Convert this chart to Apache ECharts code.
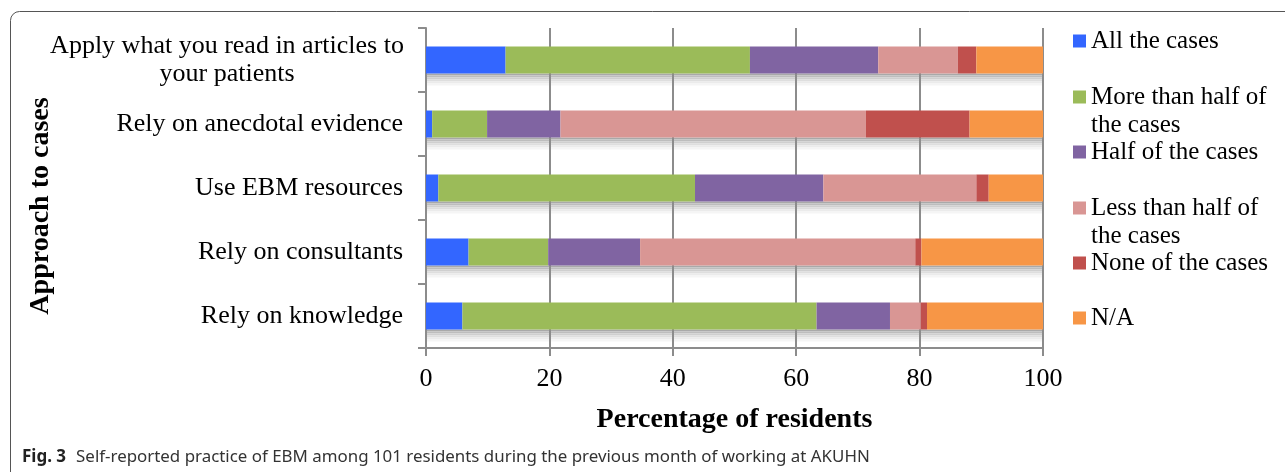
<!DOCTYPE html>
<html>
<head>
<meta charset="utf-8">
<script src="https://cdn.jsdelivr.net/npm/echarts@6/dist/echarts.min.js"></script>
<style>html,body{margin:0;padding:0;background:#fff;}#c{width:1285px;height:472px;}</style>
</head>
<body>
<div id="c"></div>
<script>
// ---- data (percent of residents) ----
var categories = ['Apply what you read in articles to your patients', 'Rely on anecdotal evidence', 'Use EBM resources', 'Rely on consultants', 'Rely on knowledge'];
var seriesNames = ['All the cases', 'More than half of the cases', 'Half of the cases', 'Less than half of the cases', 'None of the cases', 'N/A'];
var allCases = [12.9, 1.0, 2.0, 6.9, 5.9];
var moreThanHalf = [39.6, 8.9, 41.6, 12.9, 57.4];
var halfCases = [20.8, 11.9, 20.8, 14.9, 11.9];
var lessThanHalf = [12.9, 49.5, 24.8, 44.6, 5.0];
var noneCases = [3.0, 16.8, 2.0, 1.0, 1.0];
var notApplicable = [10.8, 11.9, 8.8, 19.7, 18.8];
var xTicks = [0, 20, 40, 60, 80, 100];

var colors = ['#3366FF', '#9BBB59', '#8064A2', '#D99694', '#C0504D', '#F79646'];
var values = [allCases, moreThanHalf, halfCases, lessThanHalf, noneCases, notApplicable];
var serif = '"Liberation Serif", "Times New Roman", serif';
var gridColor = '#8c8c8c';
var BAR_W = 27;

var legendLines = {
  'More than half of the cases': ['More than half of', 'the cases'],
  'Less than half of the cases': ['Less than half of', 'the cases']
};
var legendCenters = [41, 97, 152, 208, 263, 318];

var series = seriesNames.map(function (n, i) {
  return {
    name: n, type: 'bar', stack: 'total', barWidth: BAR_W, z: 3,
    data: values[i],
    itemStyle: { color: colors[i] },
    emphasis: { disabled: true }
  };
});

var legends = seriesNames.map(function (n, i) {
  var two = !!legendLines[n];
  return {
    data: [n], left: 1073, top: legendCenters[i] - (two ? 42 : 14), padding: 0,
    itemWidth: 13, itemHeight: 13, icon: 'rect', selectedMode: false,
    textStyle: {
      fontFamily: serif, fontSize: 25, color: '#000', lineHeight: 28,
      rich: { t: { fontFamily: serif, fontSize: 25, color: '#000', lineHeight: 28 }, s: { fontSize: 25, lineHeight: 28 } }
    },
    formatter: function (name) {
      if (legendLines[name]) return '{s| }\n{t|' + legendLines[name][0] + '}\n{t|' + legendLines[name][1] + '}';
      return name;
    }
  };
});

var baseGraphic = [
  { type: 'rect', silent: true, shape: { x: 10.5, y: 11.5, width: 1400, height: 600, r: 9 }, style: { fill: 'none', stroke: '#555', lineWidth: 1 } },
  { type: 'text', silent: true, x: 41, y: 206, rotation: Math.PI / 2,
    style: { text: 'Approach to cases', fontFamily: serif, fontWeight: 'bold', fontSize: 28, fill: '#000', align: 'center', verticalAlign: 'middle' } }
];

var chart = echarts.init(document.getElementById('c'), null, { renderer: 'canvas' });
chart.setOption({
  animation: false,
  backgroundColor: '#fff',
  title: {
    left: 22, top: 448, padding: 0,
    text: '{b|Fig. 3}  {r|Self-reported practice of EBM among 101 residents during the previous month of working at AKUHN}',
    textStyle: {
      fontWeight: 'normal',
      rich: {
        b: { fontFamily: '"Noto Sans", sans-serif', fontWeight: 'bold', fontSize: 17, color: '#222' },
        r: { fontFamily: '"Noto Sans", sans-serif', fontWeight: 'normal', fontSize: 16.9, color: '#333' }
      }
    }
  },
  legend: legends,
  grid: { left: 426, right: 242, top: 28, bottom: 124, containLabel: false },
  xAxis: {
    type: 'value', min: xTicks[0], max: xTicks[xTicks.length - 1], interval: 20,
    name: 'Percentage of residents', nameLocation: 'middle', nameGap: 58,
    nameTextStyle: { fontFamily: serif, fontWeight: 'bold', fontSize: 28, color: '#000' },
    axisLine: { show: true, lineStyle: { color: gridColor, width: 2 } },
    axisTick: { show: true, length: 8, lineStyle: { color: gridColor, width: 2 } },
    axisLabel: { fontFamily: serif, fontSize: 26, color: '#000', margin: 18 },
    splitLine: { show: true, lineStyle: { color: gridColor, width: 2 } }
  },
  yAxis: {
    type: 'category', data: categories, inverse: true,
    axisLine: { show: true, lineStyle: { color: gridColor, width: 2 } },
    axisTick: { show: true, length: 8, lineStyle: { color: gridColor, width: 2 } },
    splitLine: { show: false },
    axisLabel: {
      fontFamily: serif, fontSize: 26, color: '#000', margin: 23, lineHeight: 28,
      rich: { c: { fontFamily: serif, fontSize: 26, color: '#000', lineHeight: 28, width: 352, align: 'center' } },
      formatter: function (v) {
        if (v === categories[0]) return '{c|Apply what you read in articles to}\n{c|your patients}';
        return v;
      }
    }
  },
  graphic: baseGraphic,
  series: series
});

// soft drop shadow under each stacked bar, positioned through the chart's own scales
var shadowShades = ['#a9a9a9', '#bdbdbd', '#cfcfcf', '#dedede', '#ebebeb', '#f5f5f5'];
var shadows = [];
categories.forEach(function (c, k) {
  var total = 0;
  values.forEach(function (arr) { total += arr[k]; });
  var p0 = chart.convertToPixel({ gridIndex: 0 }, [0, k]);
  var p1 = chart.convertToPixel({ gridIndex: 0 }, [total, k]);
  if (!p0 || !p1) return;
  shadowShades.forEach(function (col, j) {
    shadows.push({
      type: 'rect', silent: true, z: -1,
      shape: { x: p0[0] + 1, y: p0[1] + BAR_W / 2 + j * 2, width: p1[0] - p0[0] - 2, height: 2 },
      style: { fill: col }
    });
  });
});
chart.setOption({ graphic: baseGraphic.concat(shadows) });
</script>
</body>
</html>
